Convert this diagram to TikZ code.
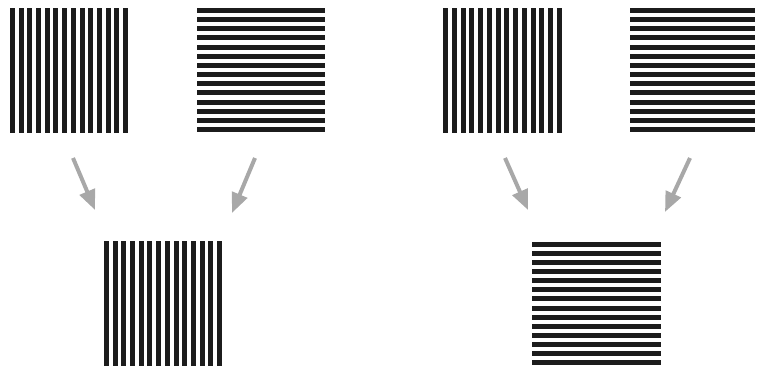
\documentclass[tikz,border=0pt]{standalone}
\usetikzlibrary{arrows.meta}
\definecolor{rayas}{HTML}{1C1C1C}
\definecolor{flechagris}{HTML}{A8A8A8}
\begin{document}
\begin{tikzpicture}[x=0.03cm,y=-0.03cm,
    raya/.style={fill=rayas},
    flecha/.style={draw=flechagris,line width=0.12cm,
      -{Triangle[length=0.6cm,width=0.48cm]}}]
    \useasboundingbox (0,0) rectangle (757,369);
    % rejillas verticales: esquina, ancho, alto
    \foreach \bx/\by/\w/\h in {10/8/118/125, 443/8/119/125, 104/241/118/125}
      {\foreach \i in {0,...,13}
        {\fill[raya] ({\bx+\i*(\w-5)/13},\by) rectangle ++(5,\h);}}
    % rejillas horizontales
    \foreach \bx/\by/\w/\h in {197/8/128/124, 630/8/125/124, 532/242/129/123}
      {\foreach \i in {0,...,13}
        {\fill[raya] (\bx,{\by+\i*(\h-5)/13}) rectangle ++(\w,5);}}
    % flechas
    \coordinate (a1) at (73,158);  \coordinate (b1) at (95,210);
    \coordinate (a2) at (255,158); \coordinate (b2) at (232,213);
    \coordinate (a3) at (505,158); \coordinate (b3) at (528,210);
    \coordinate (a4) at (690,158); \coordinate (b4) at (665,212);
    \foreach \k in {1,...,4}
      {\draw[flecha] (a\k) -- (b\k);}
  \end{tikzpicture}
\end{document}
